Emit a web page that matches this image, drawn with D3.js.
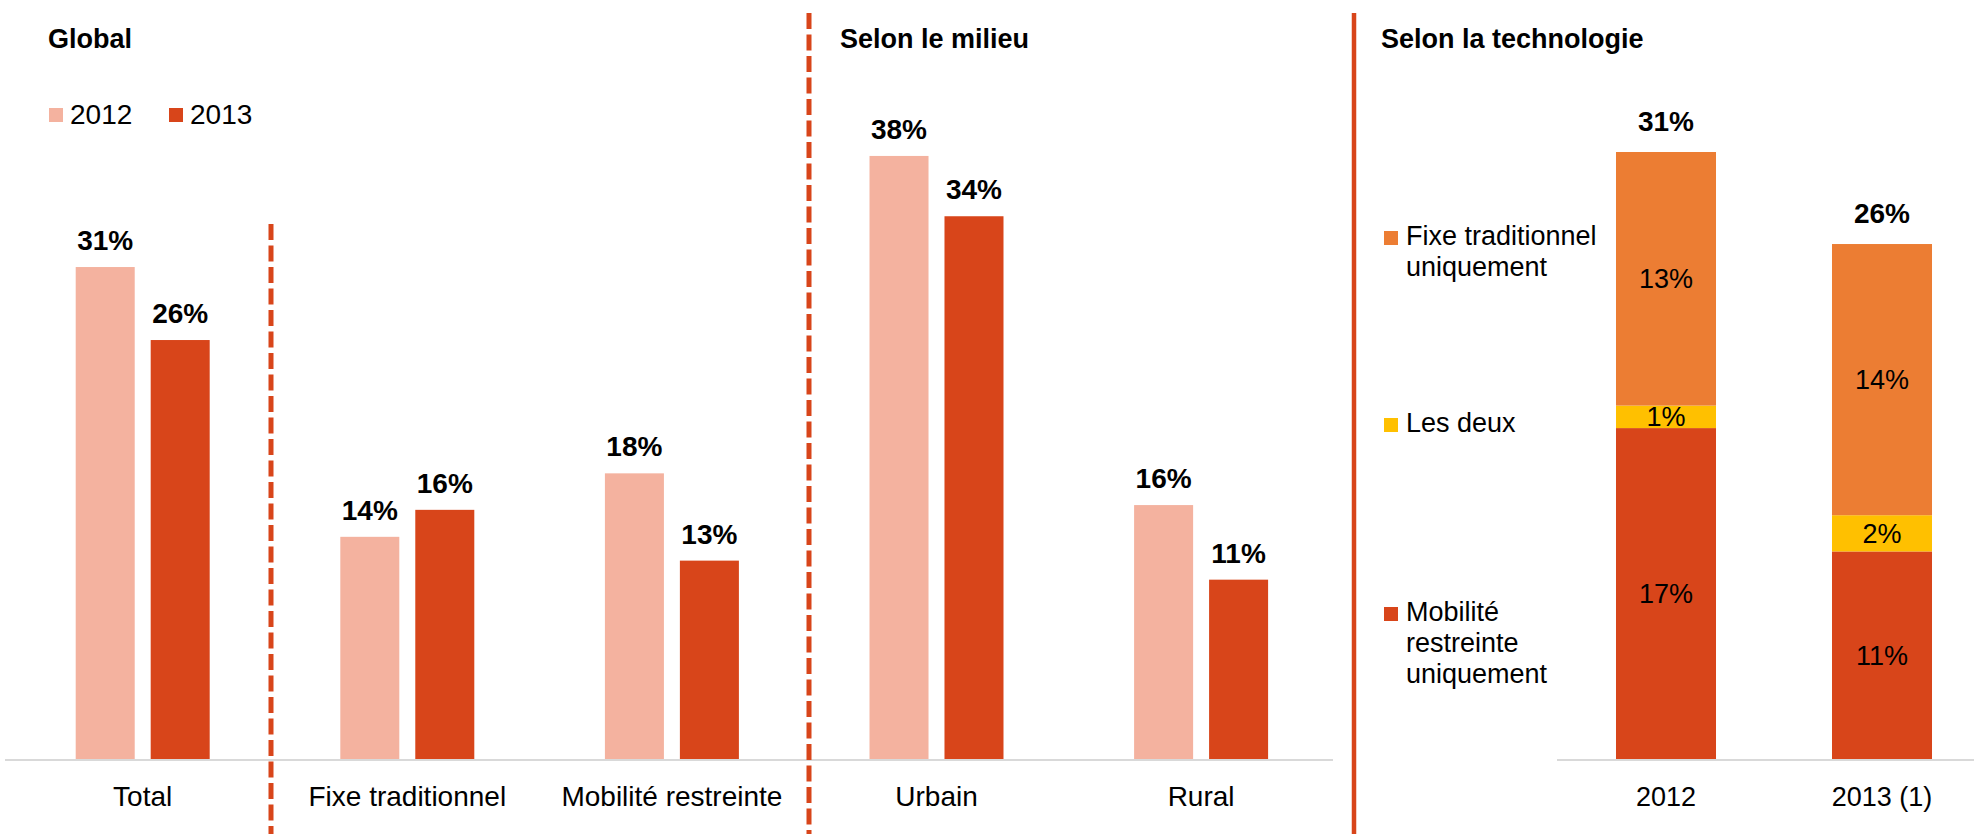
<!DOCTYPE html>
<html><head><meta charset="utf-8">
<script src="https://cdn.jsdelivr.net/npm/d3@7"></script>
<style>
html,body{margin:0;padding:0;background:#fff;}
svg{display:block;font-family:"Liberation Sans",Arial,sans-serif;}
</style></head>
<body><svg id="c" width="1974" height="834"></svg>
<script>
// ---- data ----
const categories = ["Total", "Fixe traditionnel", "Mobilité restreinte", "Urbain", "Rural"];
const years = ["2012", "2013"];
const values2012 = [31.0, 14.0, 18.0, 38.0, 16.0];
const values2013 = [26.4, 15.7, 12.5, 34.2, 11.3];
const labels2012 = ["31%", "14%", "18%", "38%", "16%"];
const labels2013 = ["26%", "16%", "13%", "34%", "11%"];

const techCategories = ["2012", "2013 (1)"];
const techSeries = ["Mobilité restreinte uniquement", "Les deux", "Fixe traditionnel uniquement"];
const techMobilite = [16.9, 10.6];
const techDeux = [1.15, 1.85];
const techFixe = [12.95, 13.85];
const techMobiliteLabels = ["17%", "11%"];
const techDeuxLabels = ["1%", "2%"];
const techFixeLabels = ["13%", "14%"];
const techTotalLabels = ["31%", "26%"];

const titles = ["Global", "Selon le milieu", "Selon la technologie"];

// ---- styles ----
const C2012 = "#F4B29F", C2013 = "#D8451A";
const CFIXE = "#EC7D33", CDEUX = "#FFC000", CMOB = "#D8451A";
const SEP = "#D8451A";

const svg = d3.select("#c");
const baseY = 759;

// ---- left chart (grouped bars) ----
const x0 = d3.scaleBand().domain(categories).range([10.4, 1333.4]).paddingInner(0.4936).paddingOuter(0.2468);
const x1 = d3.scaleBand().domain(years).range([0, x0.bandwidth()]).paddingInner(0.213);
const y = d3.scaleLinear().domain([0, 40]).range([baseY, baseY - 40 * 15.87]);

const rows = categories.map((c, i) => ({
  cat: c,
  bars: [
    {year: "2012", v: values2012[i], lab: labels2012[i], col: C2012},
    {year: "2013", v: values2013[i], lab: labels2013[i], col: C2013}
  ]
}));

const gl = svg.append("g");
const grp = gl.selectAll("g.grp").data(rows).join("g").attr("transform", d => `translate(${x0(d.cat)},0)`);
grp.selectAll("rect").data(d => d.bars).join("rect")
  .attr("x", d => x1(d.year)).attr("width", x1.bandwidth())
  .attr("y", d => y(d.v)).attr("height", d => y(0) - y(d.v))
  .attr("fill", d => d.col);
grp.selectAll("text.val").data(d => d.bars).join("text").attr("class", "val")
  .attr("x", d => x1(d.year) + x1.bandwidth() / 2).attr("y", d => y(d.v) - 17)
  .attr("text-anchor", "middle").attr("font-size", 28).attr("font-weight", "bold").attr("fill", "#000")
  .text(d => d.lab);

// axis line + category labels
const axL = gl.append("g").attr("transform", `translate(0,${baseY})`)
  .call(d3.axisBottom(x0).tickSize(0).tickPadding(0));
axL.select(".domain").attr("stroke", "#D9D9D9").attr("stroke-width", 2).attr("d", "M5,1H1333");
axL.selectAll(".tick text").attr("font-size", 28).attr("fill", "#000").attr("font-family", "Liberation Sans, Arial, sans-serif")
  .attr("dy", 0).attr("y", 47);

// ---- right chart (stacked) ----
const xr = d3.scaleBand().domain(techCategories).range([1558, 1990]).paddingInner(0.537).paddingOuter(0.2685);
const yr = d3.scaleLinear().domain([0, 31]).range([baseY, 152]);
const stackData = techCategories.map((c, i) => ({cat: c, mob: techMobilite[i], deux: techDeux[i], fixe: techFixe[i]}));
const stackLayers = d3.stack().keys(["mob", "deux", "fixe"])(stackData);
const segCols = {mob: CMOB, deux: CDEUX, fixe: CFIXE};
const segLabels = {mob: techMobiliteLabels, deux: techDeuxLabels, fixe: techFixeLabels};

const gr = svg.append("g");
stackLayers.forEach(layer => {
  const key = layer.key;
  gr.append("g").selectAll("rect").data(layer).join("rect")
    .attr("x", d => xr(d.data.cat)).attr("width", xr.bandwidth())
    .attr("y", d => yr(d[1])).attr("height", d => yr(d[0]) - yr(d[1]))
    .attr("fill", segCols[key]);
  gr.append("g").selectAll("text").data(layer).join("text")
    .attr("x", d => xr(d.data.cat) + xr.bandwidth() / 2)
    .attr("y", d => (yr(d[0]) + yr(d[1])) / 2 + 9.5)
    .attr("text-anchor", "middle").attr("font-size", 27).attr("fill", "#000")
    .text((d, i) => segLabels[key][i]);
});
const topLayer = stackLayers[stackLayers.length - 1];
gr.append("g").selectAll("text").data(topLayer).join("text")
  .attr("x", d => xr(d.data.cat) + xr.bandwidth() / 2).attr("y", d => yr(d[1]) - 21)
  .attr("text-anchor", "middle").attr("font-size", 28).attr("font-weight", "bold").attr("fill", "#000")
  .text((d, i) => techTotalLabels[i]);

const axR = gr.append("g").attr("transform", `translate(0,${baseY})`)
  .call(d3.axisBottom(xr).tickSize(0).tickPadding(0));
axR.select(".domain").attr("stroke", "#D9D9D9").attr("stroke-width", 2).attr("d", "M1557,1H1974");
axR.selectAll(".tick text").attr("font-size", 27).attr("fill", "#000").attr("font-family", "Liberation Sans, Arial, sans-serif")
  .attr("dy", 0).attr("y", 47);

// right legend
const legR = [
  {lines: ["Fixe traditionnel", "uniquement"], col: CFIXE, y: 245},
  {lines: ["Les deux"], col: CDEUX, y: 432},
  {lines: ["Mobilité", "restreinte", "uniquement"], col: CMOB, y: 621}
];
legR.forEach(it => {
  gr.append("rect").attr("x", 1384).attr("y", it.y - 14).attr("width", 14).attr("height", 14).attr("fill", it.col);
  const t = gr.append("text").attr("x", 1406).attr("y", it.y).attr("font-size", 27).attr("fill", "#000");
  it.lines.forEach((l, k) => t.append("tspan").attr("x", 1406).attr("dy", k === 0 ? 0 : 31).text(l));
});

// left legend
[{t: "2012", col: C2012, x: 49}, {t: "2013", col: C2013, x: 169}].forEach(it => {
  svg.append("rect").attr("x", it.x).attr("y", 108).attr("width", 14).attr("height", 14).attr("fill", it.col);
  svg.append("text").attr("x", it.x + 21).attr("y", 124).attr("font-size", 28).attr("fill", "#000").text(it.t);
});

// titles
[[48, titles[0]], [840, titles[1]], [1381, titles[2]]].forEach(([x, t]) => {
  svg.append("text").attr("x", x).attr("y", 48).attr("font-size", 27).attr("font-weight", "bold").attr("fill", "#000").text(t);
});

// separators
svg.append("line").attr("x1", 271).attr("x2", 271).attr("y1", 224).attr("y2", 834)
  .attr("stroke", SEP).attr("stroke-width", 5).attr("stroke-dasharray", "16,5.5");
svg.append("line").attr("x1", 809).attr("x2", 809).attr("y1", 13).attr("y2", 834)
  .attr("stroke", SEP).attr("stroke-width", 5).attr("stroke-dasharray", "16,5.5");
svg.append("line").attr("x1", 1354).attr("x2", 1354).attr("y1", 13).attr("y2", 834)
  .attr("stroke", SEP).attr("stroke-width", 4.5);
</script>
</body></html>
